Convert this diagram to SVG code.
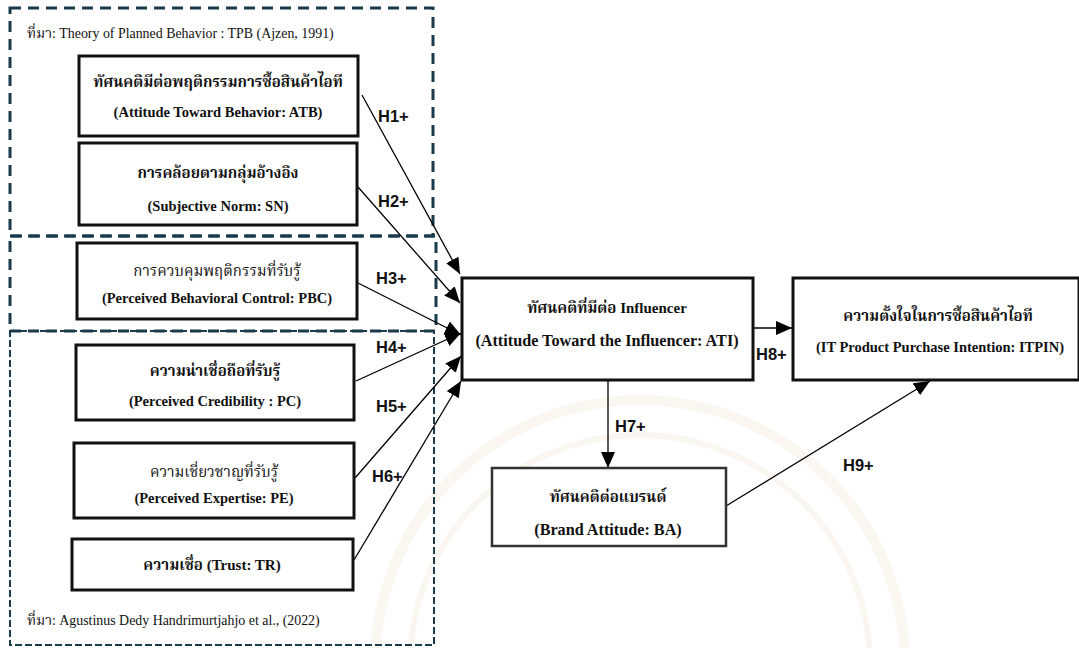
<svg xmlns="http://www.w3.org/2000/svg" width="1079" height="648" viewBox="0 0 1079 648">
  <defs>
    <marker id="arrow" markerUnits="userSpaceOnUse" markerWidth="17" markerHeight="15" refX="16" refY="7" orient="auto">
      <path d="M0,0 L16,7 L0,14 z" fill="#000"/>
    </marker>
    <style>
      .box { fill: #fff; stroke: #111; stroke-width: 3; }
      .box-soft { fill: #fff; stroke: #333; stroke-width: 2.5; }
      .th { font-family: "Liberation Serif", "Noto Serif Thai", "Noto Sans Thai", serif; font-size: 15px; font-weight: bold; fill: #111; text-anchor: middle; }
      .th-reg { font-weight: normal; }
      .en { font-family: "Liberation Serif", serif; font-size: 14.5px; font-weight: bold; fill: #111; text-anchor: middle; }
      .en-lg { font-size: 16.2px; }
      .src { font-family: "Liberation Serif", "Noto Serif Thai", "Noto Sans Thai", serif; font-size: 13.9px; fill: #111; }
      .hlab { font-family: "Liberation Sans", Arial, sans-serif; font-size: 16.5px; font-weight: bold; fill: #111; }
      .link { stroke: #000; stroke-width: 1.3; fill: none; marker-end: url(#arrow); }
      .frame-long { fill: none; stroke: #1b3a4b; stroke-width: 3; stroke-dasharray: 11 7; }
      .frame-short { fill: none; stroke: #1b3a4b; stroke-width: 2; stroke-dasharray: 7 3; }
      .seal { fill: none; stroke: #faf6f0; }
    </style>
  </defs>

  <rect width="1079" height="648" fill="#fff"/>

  <!-- faint background seal -->
  <g id="seal">
    <circle class="seal" cx="640" cy="665" r="265" stroke-width="10"/>
    <circle class="seal" cx="640" cy="665" r="230" stroke-width="6"/>
  </g>

  <!-- source frames -->
  <g id="frames">
    <rect class="frame-long" x="10" y="8" width="423" height="228"/>
    <rect class="frame-long" x="10" y="236" width="426" height="95"/>
    <rect class="frame-short" x="10" y="331" width="424" height="314"/>
    <text class="src" x="27" y="38">ที่มา: Theory of Planned Behavior : TPB (Ajzen, 1991)</text>
    <text class="src" x="27" y="625">ที่มา: Agustinus Dedy Handrimurtjahjo et al., (2022)</text>
  </g>

  <!-- connectors -->
  <g id="connectors">
    <line class="link" x1="362" y1="95" x2="460" y2="274"/>
    <line class="link" x1="358" y1="187" x2="460" y2="303"/>
    <line class="link" x1="358" y1="283" x2="461" y2="335"/>
    <line class="link" x1="356" y1="381" x2="461" y2="333"/>
    <line class="link" x1="355" y1="478" x2="461" y2="356"/>
    <line class="link" x1="354" y1="560" x2="461" y2="381"/>
    <line class="link" x1="753" y1="328" x2="792" y2="328"/>
    <line class="link" x1="608" y1="380" x2="608" y2="468"/>
    <line class="link" x1="726" y1="506" x2="930" y2="381"/>
    <text class="hlab" x="378" y="122">H1+</text>
    <text class="hlab" x="378" y="207">H2+</text>
    <text class="hlab" x="376" y="284">H3+</text>
    <text class="hlab" x="376" y="353">H4+</text>
    <text class="hlab" x="376" y="412">H5+</text>
    <text class="hlab" x="372" y="482">H6+</text>
    <text class="hlab" x="615" y="432">H7+</text>
    <text class="hlab" x="756" y="360">H8+</text>
    <text class="hlab" x="843" y="471" fill="#333">H9+</text>
  </g>

  <!-- nodes -->
  <g id="node-atb">
    <rect class="box" x="79" y="56" width="279" height="80"/>
    <text class="th" x="218" y="87" font-size="13.5">ทัศนคติมีต่อพฤติกรรมการซื้อสินค้าไอที</text>
    <text class="en" x="218" y="117">(Attitude Toward Behavior: ATB)</text>
  </g>
  <g id="node-sn">
    <rect class="box" x="79" y="143" width="278" height="82"/>
    <text class="th" x="218" y="178" font-size="14.8">การคล้อยตามกลุ่มอ้างอิง</text>
    <text class="en" x="218" y="211">(Subjective Norm: SN)</text>
  </g>
  <g id="node-pbc">
    <rect class="box" x="77" y="243" width="280" height="76"/>
    <text class="th th-reg" x="217" y="276" font-size="14.3">การควบคุมพฤติกรรมที่รับรู้</text>
    <text class="en" x="217" y="303">(Perceived Behavioral Control: PBC)</text>
  </g>
  <g id="node-pc">
    <rect class="box" x="76" y="345" width="278" height="75"/>
    <text class="th" x="215" y="376" font-size="13.8">ความน่าเชื่อถือที่รับรู้</text>
    <text class="en" x="215" y="406">(Perceived Credibility : PC)</text>
  </g>
  <g id="node-pe">
    <rect class="box" x="74" y="443" width="280" height="75"/>
    <text class="th th-reg" x="214" y="477" font-size="14.2">ความเชี่ยวชาญที่รับรู้</text>
    <text class="en" x="214" y="503">(Perceived Expertise: PE)</text>
  </g>
  <g id="node-tr">
    <rect class="box" x="72" y="539" width="281" height="51"/>
    <text class="th" x="212" y="570" font-size="14">ความเชื่อ (Trust: TR)</text>
  </g>
  <g id="node-ati">
    <rect class="box" x="462" y="278" width="291" height="102"/>
    <text class="th" x="607" y="313">ทัศนคติที่มีต่อ Influencer</text>
    <text class="en en-lg" x="607" y="346">(Attitude Toward the Influencer: ATI)</text>
  </g>
  <g id="node-itpin">
    <rect class="box" x="793" y="278" width="286" height="102"/>
    <text class="th" x="938" y="321">ความตั้งใจในการซื้อสินค้าไอที</text>
    <text class="en" x="940" y="352" font-size="16">(IT Product Purchase Intention: ITPIN)</text>
  </g>
  <g id="node-ba">
    <rect class="box-soft" x="492" y="468" width="234" height="78"/>
    <text class="th" x="608" y="502" fill="#333">ทัศนคติต่อแบรนด์</text>
    <text class="en en-lg" x="608" y="535" fill="#333">(Brand Attitude: BA)</text>
  </g>
</svg>
